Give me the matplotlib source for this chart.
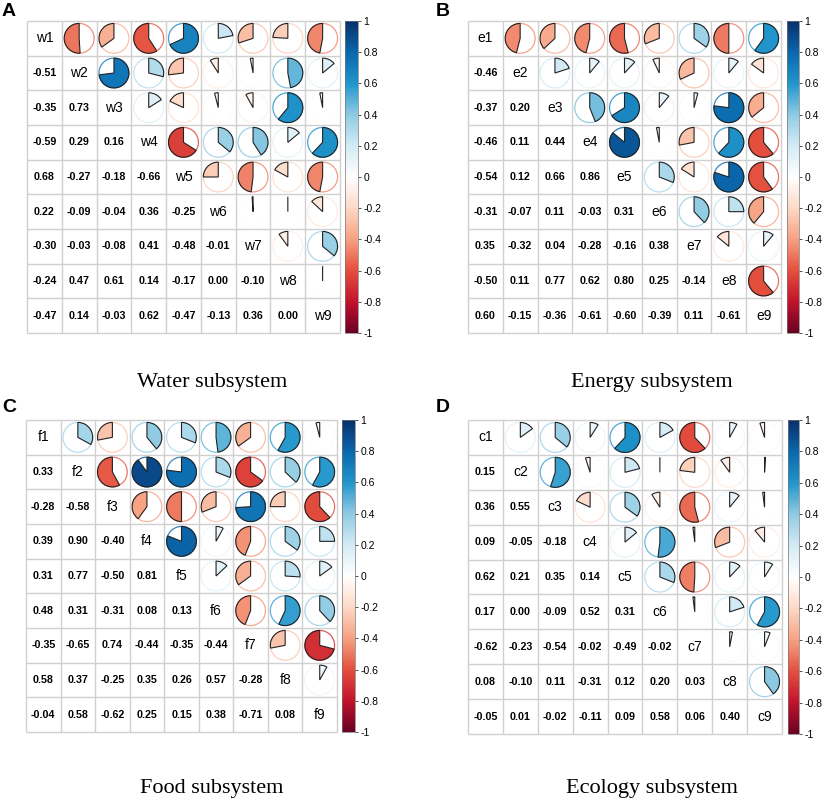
import numpy as np
import matplotlib
matplotlib.use('Agg')
import matplotlib.pyplot as plt
from matplotlib.patches import Wedge, Circle
from matplotlib.colors import LinearSegmentedColormap, Normalize
from matplotlib.cm import ScalarMappable

# lower triangles of the correlation matrices (row 2 .. row 9)
water_labels = ['w1', 'w2', 'w3', 'w4', 'w5', 'w6', 'w7', 'w8', 'w9']
water_lower = [
    [-0.51],
    [-0.35, 0.73],
    [-0.59, 0.29, 0.16],
    [0.68, -0.27, -0.18, -0.66],
    [0.22, -0.09, -0.04, 0.36, -0.25],
    [-0.30, -0.03, -0.08, 0.41, -0.48, -0.01],
    [-0.24, 0.47, 0.61, 0.14, -0.17, 0.00, -0.10],
    [-0.47, 0.14, -0.03, 0.62, -0.47, -0.13, 0.36, 0.00],
]

energy_labels = ['e1', 'e2', 'e3', 'e4', 'e5', 'e6', 'e7', 'e8', 'e9']
energy_lower = [
    [-0.46],
    [-0.37, 0.20],
    [-0.46, 0.11, 0.44],
    [-0.54, 0.12, 0.66, 0.86],
    [-0.31, -0.07, 0.11, -0.03, 0.31],
    [0.35, -0.32, 0.04, -0.28, -0.16, 0.38],
    [-0.50, 0.11, 0.77, 0.62, 0.80, 0.25, -0.14],
    [0.60, -0.15, -0.36, -0.61, -0.60, -0.39, 0.11, -0.61],
]

food_labels = ['f1', 'f2', 'f3', 'f4', 'f5', 'f6', 'f7', 'f8', 'f9']
food_lower = [
    [0.33],
    [-0.28, -0.58],
    [0.39, 0.90, -0.40],
    [0.31, 0.77, -0.50, 0.81],
    [0.48, 0.31, -0.31, 0.08, 0.13],
    [-0.35, -0.65, 0.74, -0.44, -0.35, -0.44],
    [0.58, 0.37, -0.25, 0.35, 0.26, 0.57, -0.28],
    [-0.04, 0.58, -0.62, 0.25, 0.15, 0.38, -0.71, 0.08],
]

ecology_labels = ['c1', 'c2', 'c3', 'c4', 'c5', 'c6', 'c7', 'c8', 'c9']
ecology_lower = [
    [0.15],
    [0.36, 0.55],
    [0.09, -0.05, -0.18],
    [0.62, 0.21, 0.35, 0.14],
    [0.17, 0.00, -0.09, 0.52, 0.31],
    [-0.62, -0.23, -0.54, -0.02, -0.49, -0.02],
    [0.08, -0.10, 0.11, -0.31, 0.12, 0.20, 0.03],
    [-0.05, 0.01, -0.02, -0.11, 0.09, 0.58, 0.06, 0.40],
]

titles = ['Water subsystem', 'Energy subsystem', 'Food subsystem', 'Ecology subsystem']
letters = ['A', 'B', 'C', 'D']

# red-white-blue palette as seen on the colour bars (-1 .. 1)
palette = ["#6b0022", "#c3142b", "#e4503e", "#f6a182", "#fdd9c6", "#ffffff",
           "#d3ebf5", "#8fcbe3", "#2196cc", "#0a68ad", "#08306b"]
cmap = LinearSegmentedColormap.from_list('corr', palette, N=200)
norm = Normalize(-1, 1)


def full_matrix(lower):
    n = len(lower) + 1
    m = np.eye(n)
    for i, row in enumerate(lower, start=1):
        for j, v in enumerate(row):
            m[i, j] = v
            m[j, i] = v
    return m


def draw_panel(ax, cax, mat, labels):
    n = len(labels)
    R = 0.43
    ax.set_xlim(0, n)
    ax.set_ylim(0, n)
    for i in range(n):
        for j in range(n):
            x = j + 0.5
            y = n - i - 0.5
            v = mat[i, j]
            if i == j:
                ax.text(x, y, labels[i], ha='center', va='center', fontsize=10,
                        family='Liberation Sans')
            elif i > j:
                ax.text(x, y, f"{v:.2f}", ha='center', va='center', fontsize=7.7,
                        fontweight='bold', family='Liberation Sans')
            else:
                col = cmap(norm(v))
                ax.add_patch(Circle((x, y), R, fill=False, ec=col, lw=0.9, alpha=0.8))
                if v >= 0:
                    t1, t2 = 90 - 360 * v, 90
                else:
                    t1, t2 = 90, 90 - 360 * v
                ax.add_patch(Wedge((x, y), R, t1, t2, fc=col, ec='#222222', lw=0.8))
    ax.hlines(np.arange(n + 1), 0, n, color='#d0d0d0', lw=1, clip_on=False)
    ax.vlines(np.arange(n + 1), 0, n, color='#d0d0d0', lw=1, clip_on=False)
    ax.axis('off')

    ticks = np.round(np.linspace(-1, 1, 11), 1)
    cb = plt.colorbar(ScalarMappable(norm=norm, cmap=cmap), cax=cax, ticks=ticks)
    cb.outline.set_linewidth(0.5)
    cb.outline.set_edgecolor('#777777')
    cb.ax.set_yticklabels([f"{t:g}" if abs(t) > 1e-9 else "0" for t in ticks])
    cb.ax.tick_params(labelsize=7.5, length=2.5, width=0.6, pad=1.5, color='#333333')
    for lab in cb.ax.get_yticklabels():
        lab.set_family('Liberation Sans')


fig = plt.figure(figsize=(8.23, 8.0), dpi=100)
W, H = 823, 800

# pixel boxes: grid (x0, x1, y0, y1), colorbar (x0, x1, y0, y1)
boxes = [
    ((27, 340, 21, 333), (345, 358, 21, 333)),
    ((468, 781, 21, 333), (787, 799, 21, 333)),
    ((26, 337, 420, 732), (342, 355, 420, 732)),
    ((468, 782, 420, 734), (788, 799, 420, 734)),
]
mats = [full_matrix(water_lower), full_matrix(energy_lower),
        full_matrix(food_lower), full_matrix(ecology_lower)]
label_sets = [water_labels, energy_labels, food_labels, ecology_labels]

for k in range(4):
    (gx0, gx1, gy0, gy1), (cx0, cx1, cy0, cy1) = boxes[k]
    ax = fig.add_axes([gx0 / W, 1 - gy1 / H, (gx1 - gx0) / W, (gy1 - gy0) / H])
    cax = fig.add_axes([cx0 / W, 1 - cy1 / H, (cx1 - cx0) / W, (cy1 - cy0) / H])
    draw_panel(ax, cax, mats[k], label_sets[k])

title_pos = [(212, 383), (652, 383), (212, 789), (652, 789)]
letter_pos = [(2, 11), (436, 11), (2, 408), (436, 408)]
for k in range(4):
    fig.text(title_pos[k][0] / W, 1 - title_pos[k][1] / H, titles[k], ha='center',
             va='center', fontsize=16, family='Liberation Serif')
    fig.text(letter_pos[k][0] / W, 1 - letter_pos[k][1] / H, letters[k], ha='left',
             va='center', fontsize=14, fontweight='bold', family='Liberation Sans')

fig.savefig('out.png', dpi=100, facecolor='white')
